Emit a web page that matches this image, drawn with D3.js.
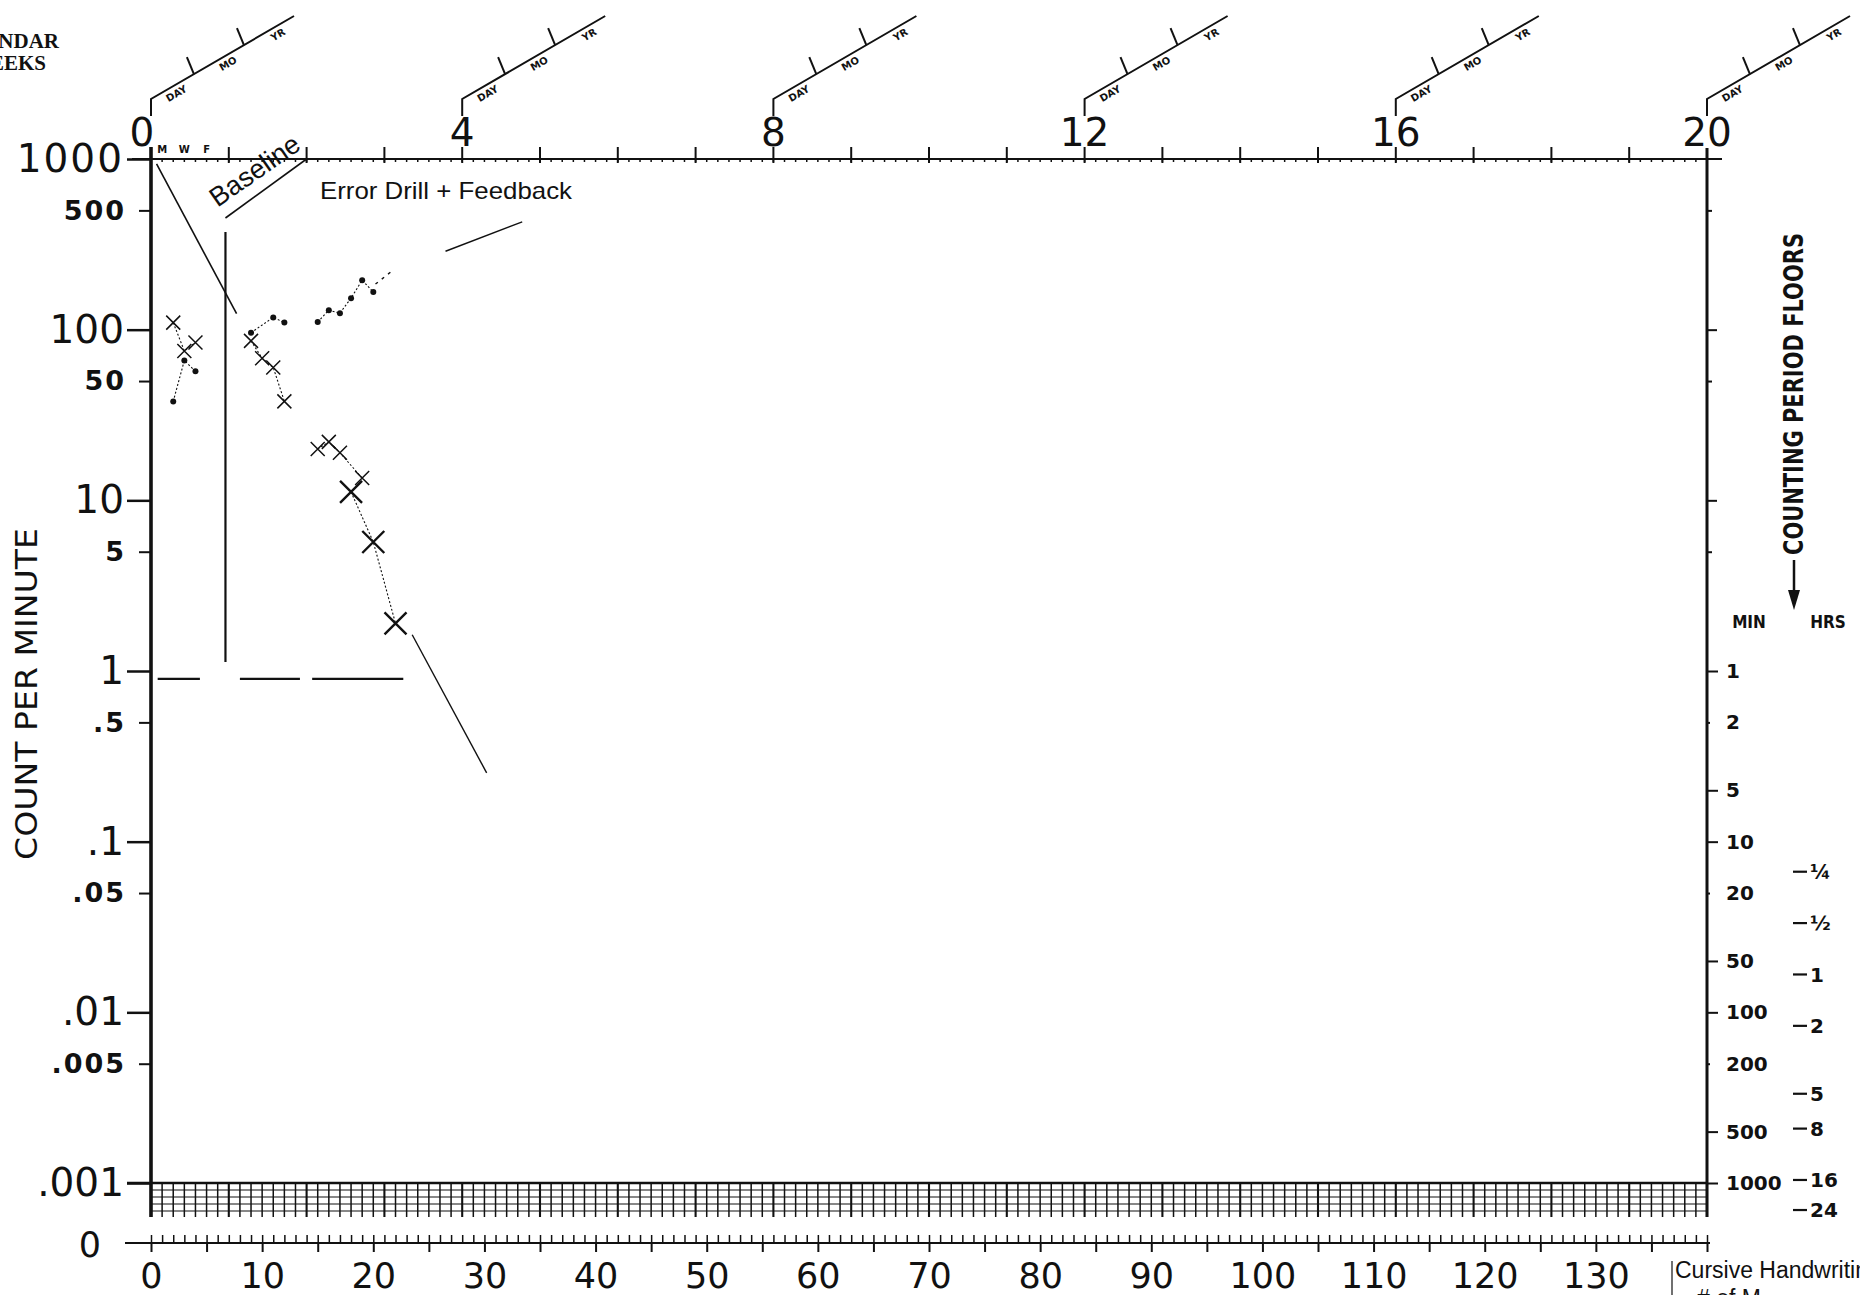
<!DOCTYPE html>
<html>
<head>
<meta charset="utf-8">
<script src="https://cdn.jsdelivr.net/npm/d3@7"></script>
<style>
  body { margin: 0; background: #fff; }
  svg { display: block; }
</style>
</head>
<body>
<svg></svg>
<script>
// chart values
const weekLabels = [0, 4, 8, 12, 16, 20];
const dayLabels = [0, 10, 20, 30, 40, 50, 60, 70, 80, 90, 100, 110, 120, 130];
const leftMajorVals = [1000, 100, 10, 1, 0.1, 0.01, 0.001];
const leftMajorLabels = ['1000', '100', '10', '1', '.1', '.01', '.001'];
const leftMinorVals = [500, 50, 5, 0.5, 0.05, 0.005];
const leftMinorLabels = ['500', '50', '5', '.5', '.05', '.005'];
const floorMinutes = [1, 2, 5, 10, 20, 50, 100, 200, 500, 1000];
const floorHours = [0.25, 0.5, 1, 2, 5, 8, 16, 24];
const floorHourLabels = ['¼', '½', '1', '2', '5', '8', '16', '24'];

// baseline phase
const baseCorrectDays = [2, 3, 4];
const baseCorrects = [38, 66, 57];
const baseErrorDays = [2, 3, 4];
const baseErrors = [110, 75, 84];

// error drill + feedback phase
const drillCorrectDays = [9, 11, 12, 15, 16, 17, 18, 19, 20];
const drillCorrects = [96, 118, 110, 111, 130, 125, 153, 195, 166];
const drillErrorDays = [9, 10, 11, 12, 15, 16, 17, 19];
const drillErrors = [86, 68, 60, 38, 20, 22, 19, 13.5];
const drillBigErrorDays = [18, 20, 22];
const drillBigErrors = [11.2, 5.7, 1.9];

// drawn lines (day, count)
const phaseLine = [[6.7, 373], [6.7, 1.13]];
const phaseLabelLine = [[6.7, 451], [14, 1000]];
const slashLine = [[0.5, 935], [7.7, 124]];
const floorSegments = [[[0.6, 0.9], [4.4, 0.9]], [[8, 0.9], [13.4, 0.9]], [[14.5, 0.9], [22.7, 0.9]]];
const correctTrendDash = [[20.2, 185], [21.8, 224]];
const correctTrend = [[26.5, 288], [33.4, 428]];
const errorTrend = [[23.5, 1.63], [30.2, 0.253]];

let width = 1860, height = 1295;
let ink = '#111';
let numFont = 'DejaVu Sans';

let xScale = d3.scaleLinear().domain([0, 140]).range([151, 1707]);
let yScale = d3.scaleLog().domain([0.001, 1000]).range([1183, 159]);

let svg = d3.select('svg').attr('width', width).attr('height', height);

let line = d3.line().x(d => xScale(d[0])).y(d => yScale(d[1]));

// ---- frame ----
let frame = svg.append('g').attr('stroke', ink).attr('fill', 'none');

// bottom grid under .001
frame.selectAll('.gridv').data(d3.range(0, 141)).join('line')
    .attr('x1', d => xScale(d)).attr('x2', d => xScale(d))
    .attr('y1', 1183).attr('y2', 1217)
    .attr('stroke-width', d => d % 7 === 0 ? 2.1 : 1.5);
frame.selectAll('.gridh').data([1190, 1197, 1204, 1211]).join('line')
    .attr('x1', xScale(0)).attr('x2', xScale(140))
    .attr('y1', d => d).attr('y2', d => d)
    .attr('stroke-width', 1.1);
frame.append('line').attr('x1', 127).attr('x2', xScale(140))
    .attr('y1', yScale(0.001)).attr('y2', yScale(0.001)).attr('stroke-width', 2.4);

// top axis
frame.append('line').attr('x1', 132).attr('x2', 1722)
    .attr('y1', 159).attr('y2', 159).attr('stroke-width', 2);
frame.selectAll('.wk').data(d3.range(1, 20)).join('line')
    .attr('x1', d => xScale(d * 7)).attr('x2', d => xScale(d * 7))
    .attr('y1', 147).attr('y2', 163).attr('stroke-width', 2);
frame.selectAll('.dy').data(d3.range(0, 141)).join('line')
    .attr('x1', d => xScale(d)).attr('x2', d => xScale(d))
    .attr('y1', 159).attr('y2', 162).attr('stroke-width', 1.5);

// side axes
frame.append('line').attr('x1', xScale(0)).attr('x2', xScale(0))
    .attr('y1', 147).attr('y2', 1217).attr('stroke-width', 3.6);
frame.append('line').attr('x1', xScale(140)).attr('x2', xScale(140))
    .attr('y1', 148).attr('y2', 1217).attr('stroke-width', 3);

// left axis labels
let gMaj = svg.append('g').attr('transform', `translate(${xScale(0)},0)`)
    .call(d3.axisLeft(yScale).tickValues(leftMajorVals)
        .tickFormat((d, i) => leftMajorLabels[i]).tickSize(24).tickPadding(3));
gMaj.select('.domain').remove();
gMaj.selectAll('line').attr('stroke', ink).attr('stroke-width', 2.5);
gMaj.selectAll('text').attr('font-family', numFont).attr('font-size', 39)
    .attr('letter-spacing', (d, i) => leftMajorLabels[i] === '1000' ? 2 : 0).attr('fill', ink);

let gMin = svg.append('g').attr('transform', `translate(${xScale(0)},0)`)
    .call(d3.axisLeft(yScale).tickValues(leftMinorVals)
        .tickFormat((d, i) => leftMinorLabels[i]).tickSize(12).tickPadding(13));
gMin.select('.domain').remove();
gMin.selectAll('line').attr('stroke', ink).attr('stroke-width', 2);
gMin.selectAll('text').attr('font-family', numFont).attr('font-weight', 'bold')
    .attr('font-size', 27).attr('letter-spacing', 2).attr('fill', ink);

svg.append('text').attr('transform', 'translate(37,694) rotate(-90)')
    .attr('text-anchor', 'middle').attr('font-family', 'DejaVu Sans Condensed, DejaVu Sans')
    .attr('font-size', 30).attr('textLength', 332).attr('lengthAdjust', 'spacingAndGlyphs')
    .attr('fill', ink).text('COUNT PER MINUTE');

// right axis: count ticks above 1
let gRc = svg.append('g').attr('transform', `translate(${xScale(140)},0)`)
    .call(d3.axisRight(yScale).tickValues([500, 100, 50, 10, 5]).tickFormat('').tickSize(9));
gRc.select('.domain').remove();
gRc.selectAll('line').attr('stroke', ink).attr('stroke-width', 2)
    .attr('x2', d => (d === 100 || d === 10) ? 10 : 5);

// right axis: counting period floors (minutes)
let gR = svg.append('g').attr('transform', `translate(${xScale(140)},0)`)
    .call(d3.axisRight(yScale).tickValues(floorMinutes.map(m => 1 / m))
        .tickFormat((d, i) => floorMinutes[i]).tickSize(11).tickPadding(8));
gR.select('.domain').remove();
gR.selectAll('line').attr('stroke', ink).attr('stroke-width', 2)
    .attr('x2', (d, i) => [2, 20, 200].includes(floorMinutes[i]) ? 3 : 11);
gR.selectAll('text').attr('font-family', numFont).attr('font-weight', 'bold')
    .attr('font-size', 20).attr('fill', ink).attr('x', 19);

// right: hours
let gH = svg.append('g');
gH.selectAll('line').data(floorHours).join('line')
    .attr('x1', 1793).attr('x2', 1807)
    .attr('y1', d => yScale(1 / (d * 60))).attr('y2', d => yScale(1 / (d * 60)))
    .attr('stroke', ink).attr('stroke-width', 2.2);
gH.selectAll('text').data(floorHours).join('text')
    .attr('x', 1810).attr('y', d => yScale(1 / (d * 60))).attr('dy', '0.36em')
    .attr('font-family', numFont).attr('font-weight', 'bold').attr('font-size', 20)
    .attr('fill', ink).text((d, i) => floorHourLabels[i]);

svg.append('text').attr('transform', 'translate(1803,394) rotate(-90)')
    .attr('text-anchor', 'middle').attr('font-family', 'DejaVu Sans Condensed, DejaVu Sans')
    .attr('font-weight', 'bold').attr('font-size', 26)
    .attr('textLength', 322).attr('lengthAdjust', 'spacingAndGlyphs')
    .attr('fill', ink).text('COUNTING PERIOD FLOORS');
svg.append('line').attr('x1', 1794).attr('x2', 1794).attr('y1', 560).attr('y2', 592)
    .attr('stroke', ink).attr('stroke-width', 2.5);
svg.append('path').attr('d', 'M1788,590 L1800,590 L1794,610 Z').attr('fill', ink);
svg.selectAll('.minhrs').data([['MIN', 1749], ['HRS', 1828]]).join('text')
    .attr('x', d => d[1]).attr('y', 628).attr('text-anchor', 'middle')
    .attr('font-family', 'DejaVu Sans Condensed, DejaVu Sans').attr('font-weight', 'bold')
    .attr('font-size', 17).attr('fill', ink).text(d => d[0]);

// zero row and day axis
svg.append('line').attr('x1', 125).attr('x2', 1710).attr('y1', 1243).attr('y2', 1243)
    .attr('stroke', ink).attr('stroke-width', 2);
let gUp = svg.append('g').attr('transform', 'translate(0,1243)')
    .call(d3.axisTop(xScale).tickValues(d3.range(0, 141)).tickFormat('').tickSize(8));
gUp.select('.domain').remove();
gUp.selectAll('line').attr('stroke', ink).attr('stroke-width', 1.5);
let gDays = svg.append('g').attr('transform', 'translate(0,1243)')
    .call(d3.axisBottom(xScale).tickValues(d3.range(0, 141, 5))
        .tickFormat(d => dayLabels.includes(d) ? d : '').tickSize(9).tickPadding(11));
gDays.select('.domain').remove();
gDays.selectAll('line').attr('stroke', ink).attr('stroke-width', 2);
gDays.selectAll('text').attr('font-family', numFont).attr('font-size', 35).attr('fill', ink);
svg.append('text').attr('x', 90).attr('y', 1244).attr('dy', '0.36em').attr('text-anchor', 'middle')
    .attr('font-family', numFont).attr('font-size', 35).attr('fill', ink).text('0');

// top week labels and celeration fans
svg.selectAll('.wklab').data(weekLabels).join('text')
    .attr('x', d => xScale(d * 7) + (d === 0 ? -9 : 0)).attr('y', 146)
    .attr('text-anchor', 'middle').attr('font-family', numFont).attr('font-size', 39)
    .attr('fill', ink).text(d => d);

let fan = svg.append('g');
weekLabels.forEach(w => {
    let x0 = xScale(w * 7);
    let pt = t => [x0 + 143 * t, 99 - 83 * t];
    let g = fan.append('g');
    g.append('path').attr('d', `M${x0},116 L${x0},99 L${x0 + 143},16`)
        .attr('fill', 'none').attr('stroke', ink).attr('stroke-width', 2);
    [0.3, 0.65].forEach(t => {
        let p = pt(t);
        g.append('line').attr('x1', p[0]).attr('y1', p[1]).attr('x2', p[0] - 7).attr('y2', p[1] - 17)
            .attr('stroke', ink).attr('stroke-width', 2);
    });
    [['DAY', 0.15], ['MO', 0.51], ['YR', 0.86]].forEach(lab => {
        let p = pt(lab[1]);
        g.append('text').attr('transform', `translate(${p[0] + 4},${p[1] + 7}) rotate(-30)`)
            .attr('text-anchor', 'middle').attr('dy', '0.35em')
            .attr('font-family', 'DejaVu Sans').attr('font-weight', 'bold').attr('font-size', 10)
            .attr('fill', ink).text(lab[0]);
    });
});

svg.selectAll('.mwf').data([['M', 1], ['W', 3], ['F', 5]]).join('text')
    .attr('x', d => xScale(d[1])).attr('y', 153).attr('text-anchor', 'middle')
    .attr('font-family', 'DejaVu Sans').attr('font-weight', 'bold').attr('font-size', 10)
    .attr('fill', ink).text(d => d[0]);

svg.append('text').attr('x', 59).attr('y', 48).attr('text-anchor', 'end')
    .attr('font-family', 'Liberation Serif').attr('font-weight', 'bold').attr('font-size', 21)
    .attr('fill', ink).text('CALENDAR');
svg.append('text').attr('x', 46).attr('y', 70).attr('text-anchor', 'end')
    .attr('font-family', 'Liberation Serif').attr('font-weight', 'bold').attr('font-size', 21)
    .attr('fill', ink).text('WEEKS');

// ---- phase annotations ----
let notes = svg.append('g').attr('stroke', ink).attr('fill', 'none');
notes.append('path').attr('d', line(phaseLine)).attr('stroke-width', 2.2);
notes.append('path').attr('d', line(phaseLabelLine)).attr('stroke-width', 1.6);
notes.append('path').attr('d', line(slashLine)).attr('stroke-width', 1.6);
notes.selectAll('.floor').data(floorSegments).join('path')
    .attr('d', d => line(d)).attr('stroke-width', 2.2);
notes.append('path').attr('d', line(correctTrendDash)).attr('stroke-width', 1.4)
    .attr('stroke-dasharray', '3,5');
notes.append('path').attr('d', line(correctTrend)).attr('stroke-width', 1.4);
notes.append('path').attr('d', line(errorTrend)).attr('stroke-width', 1.4);

svg.append('text').attr('transform', 'translate(260,178) rotate(-35)')
    .attr('text-anchor', 'middle').attr('font-family', 'Liberation Sans').attr('font-size', 27)
    .attr('fill', ink).text('Baseline');
svg.append('text').attr('x', 320).attr('y', 199)
    .attr('font-family', 'Liberation Sans').attr('font-size', 24)
    .attr('textLength', 252).attr('lengthAdjust', 'spacingAndGlyphs')
    .attr('fill', ink).text('Error Drill + Feedback');

// ---- data ----
let marks = svg.append('g');
let connect = (days, vals) => marks.append('path').attr('d', line(d3.zip(days, vals)))
    .attr('fill', 'none').attr('stroke', ink).attr('stroke-width', 1.1).attr('stroke-dasharray', '2,2');
connect(baseCorrectDays, baseCorrects);
connect(baseErrorDays, baseErrors);
connect(drillCorrectDays.slice(0, 3), drillCorrects.slice(0, 3));
connect(drillCorrectDays.slice(3), drillCorrects.slice(3));
connect(drillErrorDays.slice(0, 4), drillErrors.slice(0, 4));
connect(drillErrorDays.slice(4), drillErrors.slice(4));
connect(drillBigErrorDays, drillBigErrors);

let dots = (days, vals) => marks.selectAll(null).data(d3.zip(days, vals)).join('circle')
    .attr('cx', d => xScale(d[0])).attr('cy', d => yScale(d[1])).attr('r', 3).attr('fill', ink);
dots(baseCorrectDays, baseCorrects);
dots(drillCorrectDays, drillCorrects);

let crosses = (days, vals, r, sw) => marks.selectAll(null).data(d3.zip(days, vals)).join('path')
    .attr('d', d => {
        let cx = xScale(d[0]), cy = yScale(d[1]);
        return `M${cx - r},${cy - r}L${cx + r},${cy + r}M${cx - r},${cy + r}L${cx + r},${cy - r}`;
    })
    .attr('stroke', ink).attr('stroke-width', sw).attr('fill', 'none');
crosses(baseErrorDays, baseErrors, 7, 1.5);
crosses(drillErrorDays, drillErrors, 7, 1.5);
crosses(drillBigErrorDays, drillBigErrors, 11, 2.4);

// bottom-right label, cut by the page edge as in the source
svg.append('line').attr('x1', 1672).attr('x2', 1672).attr('y1', 1261).attr('y2', 1295)
    .attr('stroke', ink).attr('stroke-width', 1.2);
svg.append('text').attr('x', 1675).attr('y', 1278)
    .attr('font-family', 'Liberation Sans').attr('font-size', 23).attr('fill', ink)
    .text('Cursive Handwriting');
svg.append('text').attr('x', 1697).attr('y', 1306)
    .attr('font-family', 'Liberation Sans').attr('font-size', 23).attr('fill', ink)
    .text('# of M');
</script>
</body>
</html>
